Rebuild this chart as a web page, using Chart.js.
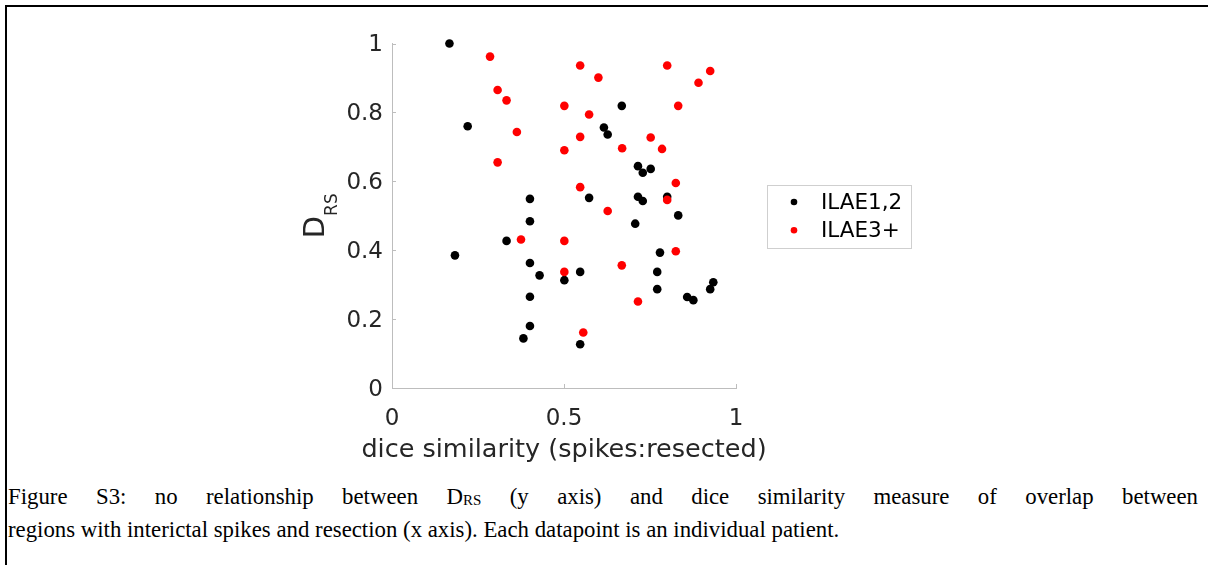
<!DOCTYPE html>
<html><head><meta charset="utf-8">
<script src="https://cdn.jsdelivr.net/npm/chart.js@4.4.1/dist/chart.umd.min.js"></script>
<style>
html,body{margin:0;padding:0;background:#fff;}
body{width:1208px;height:565px;position:relative;overflow:hidden;}
#frame{position:absolute;left:5px;top:5px;width:1203px;height:560px;border-left:2px solid #000;border-top:2px solid #000;box-sizing:border-box;}
#c{position:absolute;left:0;top:0;}
.cap{position:absolute;left:8px;width:1190px;font-family:'Liberation Serif','Times New Roman',serif;font-size:22.8px;line-height:33px;color:#000;white-space:nowrap;}
#cap1{top:480px;text-align:justify;text-align-last:justify;white-space:normal;}
#cap2{top:513px;}
.sub{font-size:15px;vertical-align:-1px;}
</style></head>
<body>
<div id="frame"></div>
<canvas id="c" width="1208" height="470"></canvas>
<div class="cap" id="cap1">Figure S3: no relationship between D<span class="sub">RS</span> (y axis) and dice similarity measure of overlap between</div>
<div class="cap" id="cap2">regions with interictal spikes and resection (x axis). Each datapoint is an individual patient.</div>
<script>
const xTickValues = [0, 0.5, 1];
const yTickValues = [0, 0.2, 0.4, 0.6, 0.8, 1];
const seriesNames = ['ILAE1,2', 'ILAE3+'];
const xTitle = 'dice similarity (spikes:resected)';
const yTitleMain = 'D';
const yTitleSub = 'RS';

const ilae12X = [0.167, 0.220, 0.401, 0.668, 0.616, 0.627, 0.715, 0.729, 0.752, 0.573, 0.715, 0.729, 0.800, 0.832, 0.707, 0.779, 0.547, 0.501, 0.771, 0.771, 0.934, 0.925, 0.858, 0.876, 0.547, 0.401, 0.333, 0.183, 0.401, 0.429, 0.401, 0.401, 0.382];
const ilae12Y = [1.000, 0.760, 0.549, 0.819, 0.756, 0.736, 0.644, 0.625, 0.636, 0.552, 0.555, 0.543, 0.555, 0.501, 0.477, 0.393, 0.337, 0.313, 0.337, 0.287, 0.307, 0.287, 0.264, 0.255, 0.127, 0.484, 0.427, 0.385, 0.363, 0.327, 0.265, 0.180, 0.144];

const ilae3X = [0.285, 0.307, 0.333, 0.501, 0.363, 0.307, 0.501, 0.547, 0.600, 0.800, 0.925, 0.891, 0.832, 0.573, 0.547, 0.752, 0.669, 0.785, 0.825, 0.547, 0.800, 0.627, 0.501, 0.825, 0.668, 0.501, 0.715, 0.556, 0.375];
const ilae3Y = [0.962, 0.865, 0.835, 0.819, 0.743, 0.655, 0.690, 0.936, 0.901, 0.936, 0.920, 0.886, 0.819, 0.794, 0.729, 0.727, 0.696, 0.694, 0.595, 0.583, 0.546, 0.514, 0.427, 0.397, 0.356, 0.337, 0.251, 0.161, 0.431];

const pts = (xs, ys) => xs.map((x, i) => ({x: x, y: ys[i]}));

const FONT = "'DejaVu Sans'";
const AXIS_COLOR = '#bdbdbd';
const TEXT_COLOR = '#262626';

const inwardTicks = {
  id: 'inwardTicks',
  afterDraw(chart) {
    const {ctx, chartArea, scales} = chart;
    ctx.save();
    ctx.strokeStyle = AXIS_COLOR;
    ctx.lineWidth = 1;
    scales.y.ticks.forEach(t => {
      const py = Math.round(scales.y.getPixelForValue(t.value)) + 0.5;
      ctx.beginPath(); ctx.moveTo(chartArea.left, py); ctx.lineTo(chartArea.left + 4, py); ctx.stroke();
    });
    scales.x.ticks.forEach(t => {
      const px = Math.round(scales.x.getPixelForValue(t.value)) + 0.5;
      ctx.beginPath(); ctx.moveTo(px, chartArea.bottom); ctx.lineTo(px, chartArea.bottom - 4); ctx.stroke();
    });
    ctx.restore();
  }
};

const axisTitles = {
  id: 'axisTitles',
  afterDraw(chart) {
    const {ctx, chartArea} = chart;
    ctx.save();
    ctx.fillStyle = TEXT_COLOR;
    ctx.font = '25.5px ' + FONT;
    ctx.textAlign = 'center';
    ctx.textBaseline = 'middle';
    ctx.fillText(xTitle, (chartArea.left + chartArea.right) / 2, chartArea.bottom + 62);
    const fMain = '29px ' + FONT, fSub = '17px ' + FONT;
    ctx.font = fMain; const wM = ctx.measureText(yTitleMain).width;
    ctx.font = fSub; const wS = ctx.measureText(yTitleSub).width;
    const cy = (chartArea.top + chartArea.bottom) / 2;
    ctx.translate(chartArea.left - 68.5, cy + (wM + wS) / 2);
    ctx.rotate(-Math.PI / 2);
    ctx.textBaseline = 'alphabetic';
    ctx.textAlign = 'left';
    ctx.font = fMain; ctx.fillText(yTitleMain, 0, 0);
    ctx.font = fSub; ctx.fillText(yTitleSub, wM, 13);
    ctx.restore();
  }
};

const boxLegend = {
  id: 'boxLegend',
  afterDraw(chart) {
    const {ctx, chartArea} = chart;
    const x0 = chartArea.right + 31, y0 = 184.5, w = 144, h = 63;
    ctx.save();
    ctx.fillStyle = '#ffffff';
    ctx.fillRect(x0, y0, w, h);
    ctx.strokeStyle = '#cfcfcf';
    ctx.lineWidth = 1;
    ctx.strokeRect(Math.round(x0) + 0.5, Math.round(y0) + 0.5, w, h);
    ctx.font = '21.5px ' + FONT;
    ctx.textBaseline = 'middle';
    ctx.textAlign = 'left';
    chart.data.datasets.forEach((ds, i) => {
      const cy = y0 + 17.5 + i * 28.3;
      ctx.beginPath();
      ctx.arc(x0 + 27, cy, 3.3, 0, Math.PI * 2);
      ctx.fillStyle = ds.backgroundColor;
      ctx.fill();
      ctx.fillStyle = '#000000';
      ctx.fillText(ds.label, x0 + 54, cy + 1);
    });
    ctx.restore();
  }
};

new Chart(document.getElementById('c'), {
  type: 'scatter',
  data: {
    datasets: [
      {label: seriesNames[0], data: pts(ilae12X, ilae12Y), backgroundColor: '#000000', borderColor: '#000000', borderWidth: 0, pointRadius: 4.3, order: 1, clip: false},
      {label: seriesNames[1], data: pts(ilae3X, ilae3Y), backgroundColor: '#ff0000', borderColor: '#ff0000', borderWidth: 0, pointRadius: 4.3, order: 0, clip: false}
    ]
  },
  options: {
    responsive: false,
    animation: false,
    devicePixelRatio: 1,
    events: [],
    layout: {padding: {left: 0, top: 43.5, right: 472, bottom: 0}},
    plugins: {legend: {display: false}, tooltip: {enabled: false}},
    scales: {
      x: {
        type: 'linear', min: 0, max: 1,
        afterBuildTicks: s => { s.ticks = xTickValues.map(v => ({value: v})); },
        afterFit: s => { s.height = 82; },
        grid: {display: false, drawTicks: false},
        border: {display: true, color: AXIS_COLOR, width: 1},
        ticks: {padding: 17, color: TEXT_COLOR, font: {family: FONT, size: 23}, maxRotation: 0, autoSkip: false, callback: v => String(v)},
        title: {display: false}
      },
      y: {
        type: 'linear', min: 0, max: 1,
        afterBuildTicks: s => { s.ticks = yTickValues.map(v => ({value: v})); },
        afterFit: s => { s.width = 392; },
        grid: {display: false, drawTicks: false},
        border: {display: true, color: AXIS_COLOR, width: 1},
        ticks: {padding: 9, labelOffset: 2, color: TEXT_COLOR, font: {family: FONT, size: 23}, autoSkip: false, callback: v => String(v)}
      }
    }
  },
  plugins: [inwardTicks, axisTitles, boxLegend]
});
</script>
</body></html>
